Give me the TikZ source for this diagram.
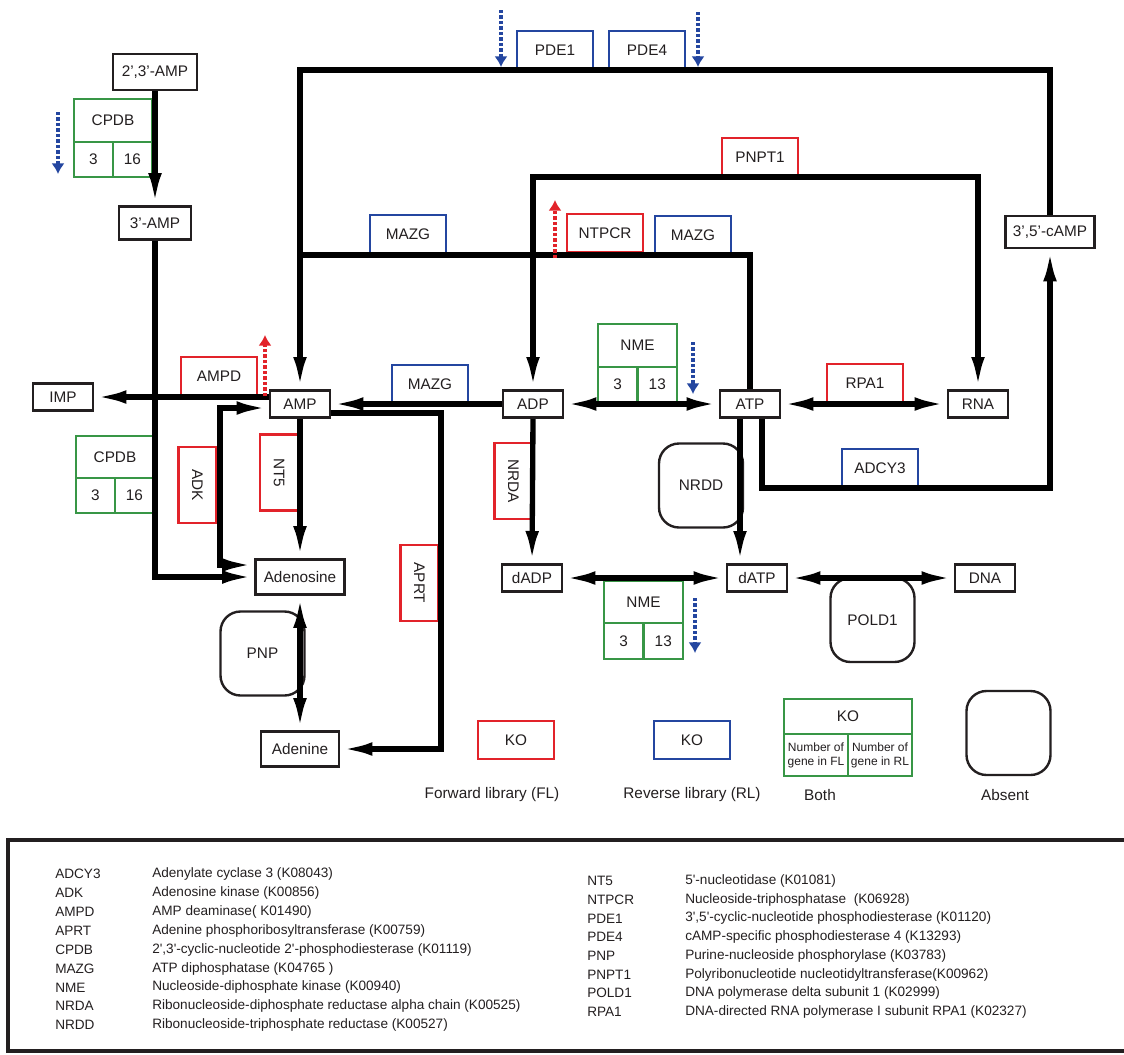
\documentclass[tikz,border=0pt]{standalone}
\usepackage{fontspec}
\setmainfont{Liberation Sans}
\newfontfamily\plainquotes{Liberation Sans}[Ligatures=TeXOff]
\usetikzlibrary{arrows.meta,positioning}

\definecolor{flred}{RGB}{226,35,42}
\definecolor{rlblue}{RGB}{36,70,160}
\definecolor{bothgreen}{RGB}{56,150,70}
\definecolor{ink}{RGB}{35,31,32}
\newcommand{\labfont}{\fontsize{11.5}{13}\selectfont}
\newcommand{\legfont}{\plainquotes\fontsize{10.2}{12}\selectfont}
\newcommand{\cellfont}{\fontsize{9}{10.5}\selectfont}

\begin{document}
\begin{tikzpicture}[x=0.75pt,y=-0.75pt,>={Latex[length=24pt,width=10pt]},
  every node/.style={text=ink},
  met/.style={draw=ink,line width=2pt,fill=white,inner sep=0pt,minimum width=45pt,minimum height=20.5pt,font=\labfont},
  fl/.style={draw=flred,line width=1.6pt,fill=white,inner sep=0pt,minimum width=57pt,minimum height=28.5pt,font=\labfont},
  rl/.style={fl,draw=rlblue},
  bo/.style={draw=bothgreen,line width=1.6pt,fill=white,inner sep=0pt,outer sep=0pt,font=\labfont},
  bocell/.style={bo,minimum width=29.25pt,minimum height=26.25pt},
  absent/.style={draw=ink,line width=1.8pt,rounded corners=15pt,minimum width=63pt,minimum height=63pt,font=\labfont},
  conn/.style={line width=4pt,black},
  flind/.style={flred,line width=3pt,dash pattern=on 2.5pt off 1.6pt,-{Latex[length=8pt,width=10pt]}},
  rlind/.style={flind,rlblue},
  caption/.style={font=\labfont,inner sep=0pt},
  legtxt/.style={anchor=west,inner sep=0pt,font=\legfont}]
\useasboundingbox (0,0) rectangle (1124,1054);

% metabolites
\node[met,minimum width=63pt,minimum height=27pt] (a23) at (155,72) {2’,3’-AMP};
\node[met,minimum width=54pt,minimum height=24.75pt] (a3) at (155,223) {3’-AMP};
\node[met] (imp) at (63,397) {IMP};
\node[met] (amp) at (300,404) {AMP};
\node[met] (adp) at (533,404) {ADP};
\node[met] (atp) at (750,404) {ATP};
\node[met] (rna) at (978,404) {RNA};
\node[met,minimum width=66.75pt,minimum height=26.25pt] (adenosine) at (300,577) {Adenosine};
\node[met,minimum width=58.5pt,minimum height=26.25pt] (adenine) at (300,749) {Adenine};
\node[met] (dadp) at (532,578) {dADP};
\node[met] (datp) at (757,578) {dATP};
\node[met] (dna) at (985,578) {DNA};
\node[met,minimum width=66.75pt,minimum height=24pt] (camp) at (1050,232) {3’,5’-cAMP};

% enzymes
\node[rl] (pde1) at (555,50) {PDE1};
\node[rl] (pde4) at (647,50) {PDE4};
\node[fl] (pnpt1) at (760,157) {PNPT1};
\node[rl] (mazg1) at (408,234) {MAZG};
\node[fl] (ntpcr) at (605,233) {NTPCR};
\node[rl] (mazg2) at (693,235) {MAZG};
\node[fl] (ampd) at (219,376) {AMPD};
\node[rl] (mazg3) at (430,384) {MAZG};
\node[fl] (rpa1) at (865,383) {RPA1};
\node[rl] (adcy3) at (880,468) {ADCY3};
\node[fl,rotate=-90] (adk) at (197.5,485) {ADK};
\node[fl,rotate=-90] (nt5) at (279,472.5) {NT5};
\node[fl,rotate=-90] (nrda) at (513.5,481) {NRDA};
\node[fl,rotate=-90] (aprt) at (419.5,583) {APRT};
\node[absent] (nrdd) at (701,485.5) {NRDD};
\node[absent] (pnp) at (262.5,653.5) {PNP};
\node[absent] (pold1) at (872.5,620) {POLD1};

\node[bo,minimum width=58.5pt,minimum height=32.25pt] (cpdb1) at (113,120.5) {CPDB};
\node[bocell,anchor=north west] (cpdb1f) at (cpdb1.south west) {3};
\node[bocell,anchor=north east] (cpdb1r) at (cpdb1.south east) {16};
\node[bo,minimum width=58.5pt,minimum height=31.5pt] (cpdb2) at (115,457) {CPDB};
\node[bocell,anchor=north west] (cpdb2f) at (cpdb2.south west) {3};
\node[bocell,anchor=north east] (cpdb2r) at (cpdb2.south east) {16};
\node[bo,minimum width=59.25pt,minimum height=32.25pt] (nme1) at (637.5,345.5) {NME};
\node[bocell,minimum width=29.6pt,anchor=north west] (nme1f) at (nme1.south west) {3};
\node[bocell,minimum width=29.6pt,anchor=north east] (nme1r) at (nme1.south east) {13};
\node[bo,minimum width=59.25pt,minimum height=31.5pt] (nme2) at (643.5,602) {NME};
\node[bocell,minimum width=29.6pt,minimum height=27pt,anchor=north west] (nme2f) at (nme2.south west) {3};
\node[bocell,minimum width=29.6pt,minimum height=27pt,anchor=north east] (nme2r) at (nme2.south east) {13};

% connectors
\coordinate (toploop) at (300,70);
\coordinate (mazgloop) at (300,255);
\coordinate (pnptloop) at (760,177);
\coordinate (aprtc) at (441,413);
\coordinate (adkb) at (220,565);
\coordinate (adkt) at (220,408);
\coordinate (nrddx) at (740,0);
\coordinate (adcyc) at (762,488);
\draw[conn,->] (a23.south) -- (a3.north);
\draw[conn,->] (a3.south) |- (adenosine.west);
\draw[conn,->] (camp.north) |- (toploop) -- (amp.north);
\draw[conn] (atp.north) |- (mazgloop);
\draw[conn,<->] (adp.north) |- (pnptloop) -| (rna.north);
\draw[conn,->] (adp.west) -- (amp.east);
\draw[conn,->] (amp.west |- imp.east) -- (imp.east);
\draw[conn,<->] (adenosine.west |- adkb) -- (adkb) -- (adkt) -- (amp.west |- adkt);
\draw[conn,->] (amp.south) -- (adenosine.north);
\draw[conn,<->] (adenosine.south) -- (adenine.north);
\draw[conn,->] (amp.east |- aprtc) -- (aprtc) |- (adenine.east);
\draw[conn,<->] (adp.east) -- (atp.west);
\draw[conn,<->] (atp.east) -- (rna.west);
\draw[conn,->] (adp.south) -- (dadp.north);
\draw[conn,->] (atp.south -| nrddx) -- (datp.north -| nrddx);
\draw[conn,<->] (dadp.east) -- (datp.west);
\draw[conn,<->] (datp.east) -- (dna.west);
\draw[conn,->] (atp.south -| adcyc) -- (adcyc) -| (camp.south);

% expression indicators
\coordinate (i1s) at (58,112); \coordinate (i1e) at (58,174);
\coordinate (i2s) at (501,10); \coordinate (i2e) at (501,67);
\coordinate (i3s) at (698,12); \coordinate (i3e) at (698,67);
\coordinate (i4s) at (693,342); \coordinate (i4e) at (693,394);
\coordinate (i5s) at (695,598); \coordinate (i5e) at (695,653);
\coordinate (i6s) at (555,258); \coordinate (i6e) at (555,200);
\coordinate (i7s) at (265,396); \coordinate (i7e) at (265,335);
\draw[rlind] (i1s) -- (i1e);
\draw[rlind] (i2s) -- (i2e);
\draw[rlind] (i3s) -- (i3e);
\draw[rlind] (i4s) -- (i4e);
\draw[rlind] (i5s) -- (i5e);
\draw[flind] (i6s) -- (i6e);
\draw[flind] (i7s) -- (i7e);

% key
\node[fl] (kofl) at (516,740) {KO};
\node[rl] (korl) at (692,740) {KO};
\node[bo,minimum width=96pt,minimum height=26.25pt] (koboth) at (848,716.5) {KO};
\node[bo,minimum width=48pt,minimum height=31.5pt,font=\cellfont,align=center,anchor=north west] (kobothf) at (koboth.south west) {Number of\\gene in FL};
\node[bo,minimum width=48pt,minimum height=31.5pt,font=\cellfont,align=center,anchor=north east] (kobothr) at (koboth.south east) {Number of\\gene in RL};
\node[absent] (koabs) at (1008.5,733) {};
\node[caption] (capfl) at (492,795) {Forward library (FL)};
\node[caption] (caprl) at (692,795) {Reverse library (RL)};
\node[caption] (capboth) at (820,795) {Both};
\node[caption] (capabs) at (1005,795) {Absent};

% abbreviations
\draw[ink,line width=3pt] (8,840) rectangle (1140,1051);
\foreach \ab/\desc [count=\i from 0] in {ADCY3/Adenylate cyclase 3 (K08043),ADK/Adenosine kinase (K00856),AMPD/AMP deaminase( K01490),APRT/Adenine phosphoribosyltransferase (K00759),CPDB/{2',3'-cyclic-nucleotide 2'-phosphodiesterase (K01119)},MAZG/ATP diphosphatase (K04765 ),NME/Nucleoside-diphosphate kinase (K00940),NRDA/Ribonucleoside-diphosphate reductase alpha chain (K00525),NRDD/Ribonucleoside-triphosphate reductase (K00527)}{
  \node[legtxt] (la\i) at (55,{874+18.9*\i}) {\ab};
  \node[legtxt] (ld\i) at (152,{874+18.9*\i}) {\desc};
}
\foreach \ab/\desc [count=\i from 0] in {NT5/5'-nucleotidase (K01081),NTPCR/Nucleoside-triphosphatase~ (K06928),PDE1/{3',5'-cyclic-nucleotide phosphodiesterase (K01120)},PDE4/cAMP-specific phosphodiesterase 4 (K13293),PNP/Purine-nucleoside phosphorylase (K03783),PNPT1/Polyribonucleotide nucleotidyltransferase(K00962),POLD1/DNA polymerase delta subunit 1 (K02999),RPA1/DNA-directed RNA polymerase I subunit RPA1 (K02327)}{
  \node[legtxt] (ra\i) at (587,{881+18.7*\i}) {\ab};
  \node[legtxt] (rd\i) at (685,{881+18.7*\i}) {\desc};
}
\end{tikzpicture}
\end{document}
